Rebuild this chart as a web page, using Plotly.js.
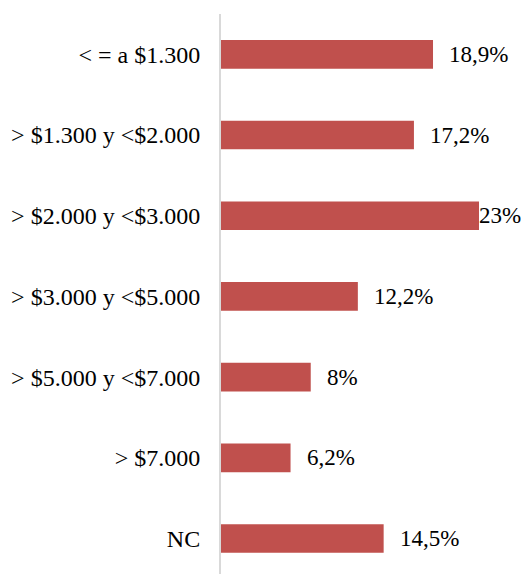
<!DOCTYPE html>
<html>
<head>
<meta charset="utf-8">
<script src="https://cdn.plot.ly/plotly-3.0.1.min.js"></script>
<style>html,body{margin:0;padding:0;overflow:hidden;background:#fff}</style>
</head>
<body>
<div id="chart" style="width:524px;height:574px"></div>
<script>
const categories = ["< = a $1.300", "> $1.300 y <$2.000", "> $2.000 y <$3.000", "> $3.000 y <$5.000", "> $5.000 y <$7.000", "> $7.000", "NC"];
const values = [18.9, 17.2, 23, 12.2, 8, 6.2, 14.5];
const valueLabels = ["18,9%", "17,2%", "23%", "12,2%", "8%", "6,2%", "14,5%"];

const fontFam = "'Liberation Serif', 'Times New Roman', Times, serif";
const maxV = Math.max(...values);

const annotations = values.map((v, i) => ({
  x: v, y: categories[i], xref: 'x', yref: 'y',
  text: valueLabels[i], showarrow: false,
  xanchor: 'left', yanchor: 'middle',
  xshift: v === maxV ? -2 : 14,
  font: {family: fontFam, size: 23, color: '#000'}
}));

Plotly.newPlot('chart', [{
  type: 'bar', orientation: 'h',
  x: values, y: categories,
  marker: {color: '#C0504D'},
  hoverinfo: 'none'
}], {
  width: 524, height: 574,
  margin: {l: 221, r: 45, t: 14, b: 0},
  paper_bgcolor: '#fff', plot_bgcolor: '#fff',
  bargap: 0.645,
  showlegend: false,
  xaxis: {range: [0, 23], visible: false, fixedrange: true},
  yaxis: {
    type: 'category', range: [6.44, -0.5],
    showline: true, linecolor: '#D9D9D9', linewidth: 2,
    showgrid: false, zeroline: false, ticks: '',
    ticklabelstandoff: 14,
    tickfont: {family: fontFam, size: 24, color: '#000'}
  },
  annotations: annotations
}, {displayModeBar: false, staticPlot: true});
</script>
</body>
</html>
